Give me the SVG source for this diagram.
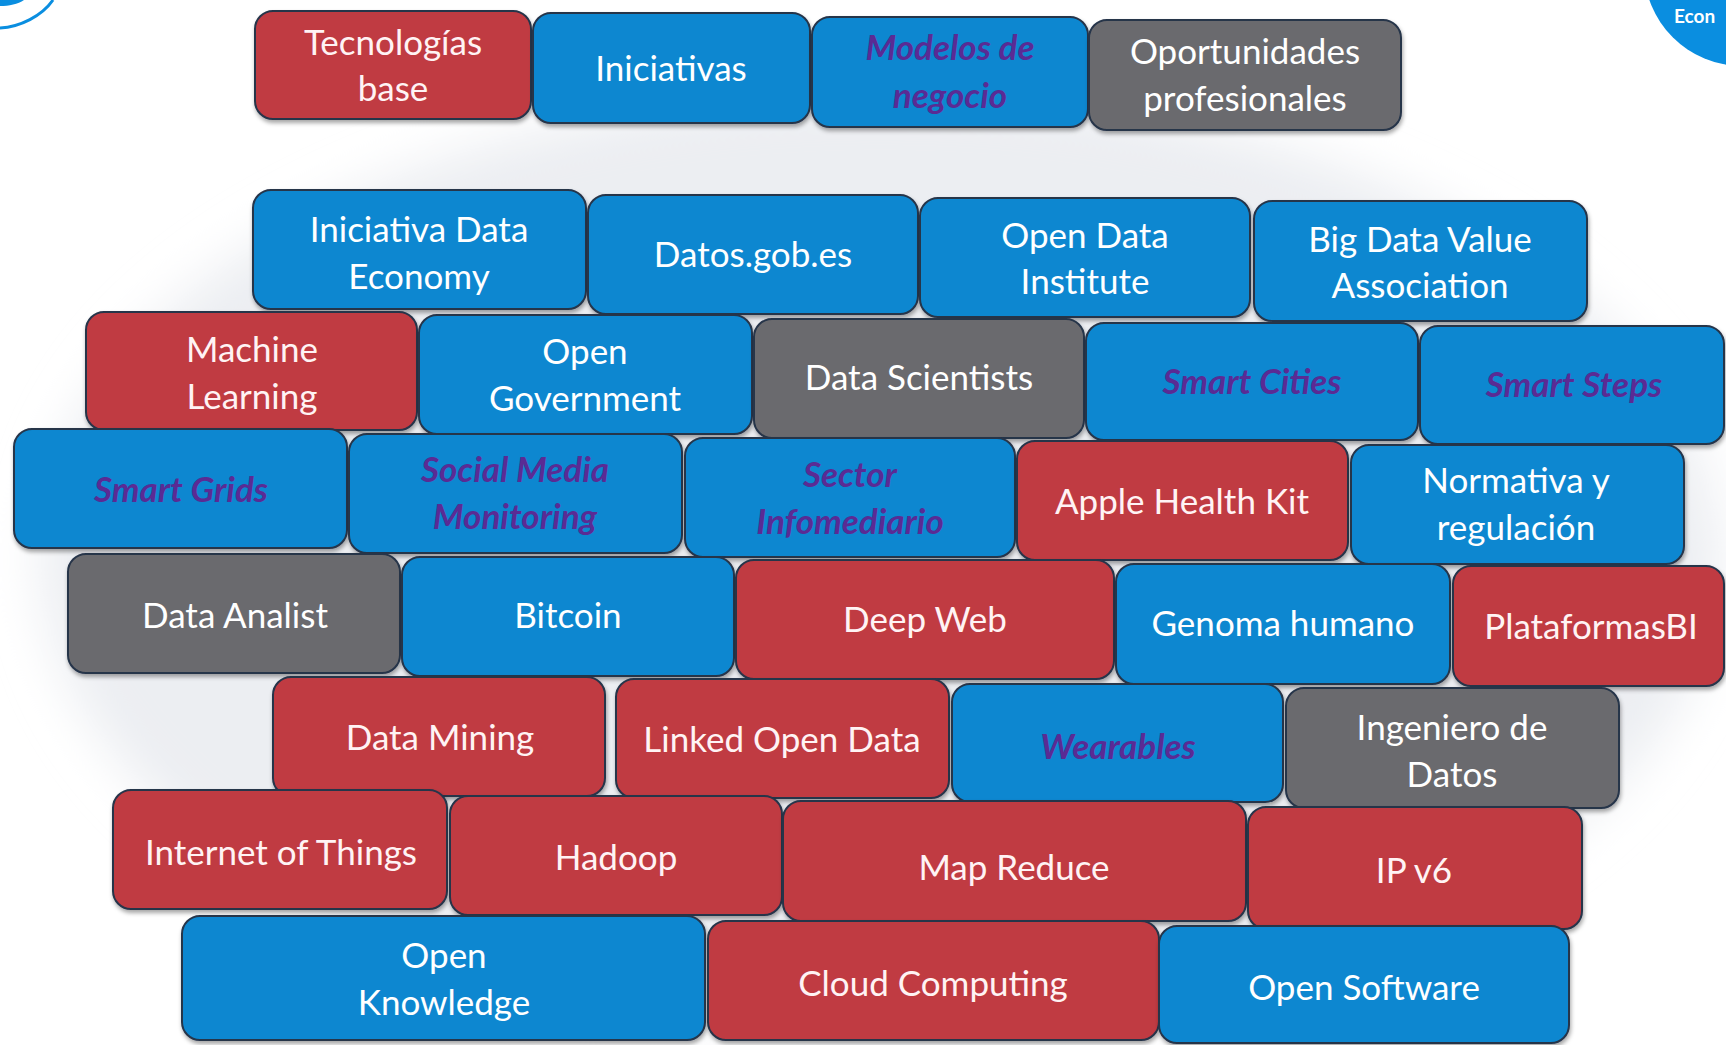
<svg xmlns="http://www.w3.org/2000/svg" width="1726" height="1045" viewBox="0 0 1726 1045">
<defs>
<filter id="glow" x="-20%" y="-20%" width="140%" height="140%"><feGaussianBlur stdDeviation="25"/></filter>
<filter id="sh" x="-10%" y="-10%" width="120%" height="130%"><feDropShadow dx="1" dy="3" stdDeviation="2" flood-color="#000" flood-opacity="0.35"/></filter>
<style>
.n rect{stroke:#26344a;stroke-width:2;filter:url(#sh)}
.b rect{fill:#0a87d0}
.r rect{fill:#c03a42}
.g rect{fill:#6b6b6e}
.n text{font-family:Lato,"Open Sans","Liberation Sans",sans-serif;font-size:35px;fill:#ffffff;text-anchor:middle;dominant-baseline:central;transform:translateY(-2px)}
.r text{fill:#fff3f4}
.i text{fill:#5a2b94;font-style:italic;font-weight:bold}
</style>
</defs>
<rect x="0" y="0" width="1726" height="1045" fill="#ffffff"/>
<ellipse cx="880" cy="560" rx="840" ry="470" fill="#eceef2" filter="url(#glow)"/>
<path d="M0,28 C20,27 42,16 53,0" fill="none" stroke="#0a8ee0" stroke-width="3"/>
<path d="M0,0 H24 C18,4 9,6 0,6 Z" fill="#0a8ee0"/>
<circle cx="1742" cy="-32" r="98" fill="#0a8ee0"/>
<text x="1674" y="23" font-family="Lato,'Open Sans',sans-serif" font-size="19" font-weight="bold" fill="#ffffff">Econ</text>
<g id="connectors"/>
<g id="tecnologias-base" class="n r"><rect x="255" y="11" width="276" height="108" rx="18"/><text x="393" y="43">Tecnologías</text><text x="393" y="89">base</text></g>
<g id="iniciativas" class="n b"><rect x="533" y="13" width="277" height="110" rx="18"/><text x="671" y="69">Iniciativas</text></g>
<g id="modelos-de-negocio" class="n b i"><rect x="812" y="17" width="276" height="110" rx="18"/><text x="950" y="48">Modelos de</text><text x="950" y="96">negocio</text></g>
<g id="oportunidades-profesionales" class="n g"><rect x="1089" y="20" width="312" height="110" rx="18"/><text x="1245" y="52">Oportunidades</text><text x="1245" y="99">profesionales</text></g>

<g id="iniciativa-data-economy" class="n b"><rect x="253" y="190" width="333" height="119" rx="18"/><text x="419" y="230">Iniciativa Data</text><text x="419" y="277">Economy</text></g>
<g id="datos-gob-es" class="n b"><rect x="588" y="195" width="330" height="119" rx="18"/><text x="753" y="255">Datos.gob.es</text></g>
<g id="open-data-institute" class="n b"><rect x="920" y="198" width="330" height="119" rx="18"/><text x="1085" y="236">Open Data</text><text x="1085" y="282">Institute</text></g>
<g id="big-data-value-association" class="n b"><rect x="1254" y="201" width="333" height="120" rx="18"/><text x="1420" y="240">Big Data Value</text><text x="1420" y="286">Association</text></g>

<g id="machine-learning" class="n r"><rect x="86" y="312" width="331" height="118" rx="18"/><text x="252" y="350">Machine</text><text x="252" y="397">Learning</text></g>
<g id="open-government" class="n b"><rect x="419" y="315" width="333" height="119" rx="18"/><text x="585" y="352">Open</text><text x="585" y="399">Government</text></g>
<g id="data-scientists" class="n g"><rect x="754" y="319" width="330" height="119" rx="18"/><text x="919" y="378">Data Scientists</text></g>
<g id="smart-cities" class="n b i"><rect x="1086" y="323" width="332" height="117" rx="18"/><text x="1252" y="382">Smart Cities</text></g>
<g id="smart-steps" class="n b i"><rect x="1420" y="326" width="304" height="118" rx="18"/><text x="1574" y="385">Smart Steps</text></g>

<g id="smart-grids" class="n b i"><rect x="14" y="429" width="333" height="119" rx="18"/><text x="181" y="490">Smart Grids</text></g>
<g id="social-media-monitoring" class="n b i"><rect x="349" y="434" width="333" height="119" rx="18"/><text x="515" y="470">Social Media</text><text x="515" y="517">Monitoring</text></g>
<g id="sector-infomediario" class="n b i"><rect x="685" y="438" width="330" height="119" rx="18"/><text x="850" y="475">Sector</text><text x="850" y="522">Infomediario</text></g>
<g id="apple-health-kit" class="n r"><rect x="1017" y="441" width="331" height="119" rx="18"/><text x="1182" y="502">Apple Health Kit</text></g>
<g id="normativa-y-regulacion" class="n b"><rect x="1351" y="445" width="333" height="119" rx="18"/><text x="1516" y="481">Normativa y</text><text x="1516" y="528">regulación</text></g>

<g id="data-analist" class="n g"><rect x="68" y="554" width="332" height="119" rx="18"/><text x="235" y="616">Data Analist</text></g>
<g id="bitcoin" class="n b"><rect x="402" y="557" width="332" height="119" rx="18"/><text x="568" y="616">Bitcoin</text></g>
<g id="deep-web" class="n r"><rect x="736" y="560" width="378" height="119" rx="18"/><text x="925" y="620">Deep Web</text></g>
<g id="genoma-humano" class="n b"><rect x="1116" y="564" width="334" height="120" rx="18"/><text x="1283" y="624">Genoma humano</text></g>
<g id="plataformas-bi" class="n r"><rect x="1453" y="566" width="271" height="120" rx="18"/><text x="1591" y="627">PlataformasBI</text></g>

<g id="data-mining" class="n r"><rect x="273" y="677" width="332" height="119" rx="18"/><text x="440" y="738">Data Mining</text></g>
<g id="linked-open-data" class="n r"><rect x="616" y="679" width="333" height="119" rx="18"/><text x="782" y="740">Linked Open Data</text></g>
<g id="wearables" class="n b i"><rect x="952" y="684" width="331" height="118" rx="18"/><text x="1118" y="747">Wearables</text></g>
<g id="ingeniero-de-datos" class="n g"><rect x="1286" y="688" width="333" height="120" rx="18"/><text x="1452" y="728">Ingeniero de</text><text x="1452" y="775">Datos</text></g>

<g id="internet-of-things" class="n r"><rect x="113" y="790" width="334" height="119" rx="18"/><text x="281" y="853">Internet of Things</text></g>
<g id="hadoop" class="n r"><rect x="450" y="796" width="332" height="119" rx="18"/><text x="616" y="858">Hadoop</text></g>
<g id="map-reduce" class="n r"><rect x="783" y="801" width="463" height="120" rx="18"/><text x="1014" y="868">Map Reduce</text></g>
<g id="ip-v6" class="n r"><rect x="1248" y="807" width="334" height="122" rx="18"/><text x="1414" y="871">IP v6</text></g>

<g id="open-knowledge" class="n b"><rect x="182" y="916" width="523" height="124" rx="18"/><text x="444" y="956">Open</text><text x="444" y="1003">Knowledge</text></g>
<g id="cloud-computing" class="n r"><rect x="708" y="921" width="451" height="119" rx="18"/><text x="933" y="984">Cloud Computing</text></g>
<g id="open-software" class="n b"><rect x="1159" y="926" width="410" height="117" rx="18"/><text x="1364" y="988">Open Software</text></g>
</svg>
